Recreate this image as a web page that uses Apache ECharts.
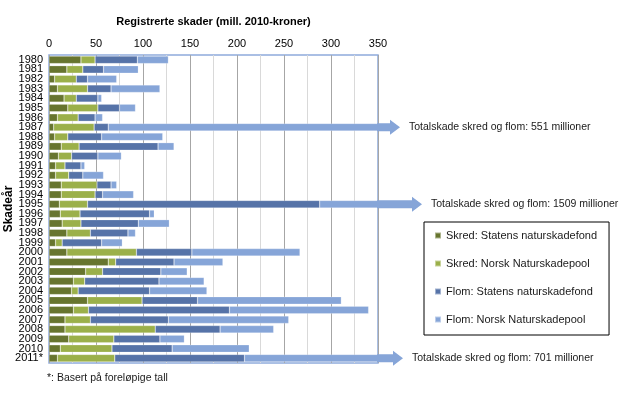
<!DOCTYPE html>
<html>
<head>
<meta charset="utf-8">
<script src="https://cdn.jsdelivr.net/npm/echarts@6/dist/echarts.min.js"></script>
<style>
	html, body { margin: 0; padding: 0; background: #fff; }
	#main { width: 620px; height: 398px; }
</style>
</head>
<body>
<div id="main"></div>
<script>
// data (mill. 2010-kroner)
var years = ['1980', '1981', '1982', '1983', '1984', '1985', '1986', '1987', '1988', '1989',
	'1990', '1991', '1992', '1993', '1994', '1995', '1996', '1997', '1998', '1999',
	'2000', '2001', '2002', '2003', '2004', '2005', '2006', '2007', '2008', '2009',
	'2010', '2011*'];
var skredStatens = [34, 19, 6, 9, 16, 20, 9, 5, 6, 13, 10, 7, 7, 13, 13, 11, 12, 14, 19, 7,
	19, 63, 39, 26, 24, 41, 26, 17, 17, 21, 12, 9];
var skredPool = [15, 17, 23, 32, 13, 32, 22, 43, 14, 19, 14, 10, 14, 38, 36, 30, 21, 20, 25, 7,
	74, 8, 18, 12, 7, 58, 16, 27, 96, 48, 55, 61];
var flomStatens = [45, 22, 12, 25, 23, 23, 18, 15, 36, 84, 28, 17, 15, 15, 8, 247, 74, 61, 40, 42,
	59, 62, 62, 79, 76, 59, 150, 83, 69, 49, 64, 138];
var flomPool = [33, 37, 31, 52, 4, 17, 8, 488, 65, 17, 25, 4, 22, 6, 33, 1221, 5, 33, 8, 22,
	115, 52, 28, 48, 61, 153, 148, 128, 57, 26, 82, 493];
var seriesNames = ['Skred: Statens naturskadefond', 'Skred: Norsk Naturskadepool',
	'Flom: Statens naturskadefond', 'Flom: Norsk Naturskadepool'];
var xTicks = [0, 50, 100, 150, 200, 250, 300, 350];
// years whose bar runs past the axis and gets an arrow + total
var overflowYears = ['1987', '1995', '2011*'];

var colors = ['#67752f', '#9bb04a', '#5673a8', '#86a5d8'];
var option;
var myChart;

myChart = echarts.init(document.getElementById('main'));

var allData = [skredStatens, skredPool, flomStatens, flomPool];
var series = [];
for (var i = 0; i < 4; i++) {
	series.push({
		name: seriesNames[i],
		type: 'bar',
		stack: 'total',
		barCategoryGap: '22%',
		clip: true,
		itemStyle: { color: colors[i], borderColor: 'rgba(255,255,255,0.45)', borderWidth: 0.5 },
		data: allData[i]
	});
}

option = {
	animation: false,
	textStyle: { fontFamily: 'Liberation Sans, Arial, sans-serif' },
	grid: {
		left: 49, right: 242, top: 55, bottom: 35,
		containLabel: false,
		outerBoundsMode: 'none',
		show: true, borderColor: '#8eaadb', borderWidth: 1.5
	},
	legend: {
		orient: 'vertical',
		left: 424, top: 222,
		data: seriesNames,
		icon: 'rect',
		itemWidth: 6, itemHeight: 6,
		itemGap: 17,
		padding: [8, 12, 10, 10],
		borderColor: '#000', borderWidth: 1,
		textStyle: { fontSize: 11, color: '#1a1a1a' }
	},
	xAxis: {
		type: 'value',
		position: 'top',
		min: xTicks[0], max: xTicks[xTicks.length - 1], interval: 50,
		name: 'Registrerte skader (mill. 2010-kroner)',
		nameLocation: 'middle',
		nameGap: 28,
		nameTextStyle: { fontSize: 11, fontWeight: 'bold', color: '#000' },
		axisLine: { show: false },
		axisTick: { show: false },
		axisLabel: { fontSize: 11, color: '#000', margin: 6 },
		splitLine: { lineStyle: { color: '#a6a6a6' } },
		minorTick: { show: false, splitNumber: 2 },
		minorSplitLine: { show: true, lineStyle: { color: '#d9d9d9' } }
	},
	yAxis: {
		type: 'category',
		inverse: true,
		data: years,
		name: 'Skadeår',
		nameLocation: 'middle',
		nameRotate: 90,
		nameGap: 34,
		nameMoveOverlap: false,
		nameTextStyle: { fontSize: 12, fontWeight: 'bold', color: '#000' },
		axisLine: { show: false },
		axisTick: { show: false },
		axisLabel: { fontSize: 11, color: '#000', margin: 6, interval: 0 }
	},
	series: series
};

myChart.setOption(option);

// arrows and totals for the bars that run off the axis
var tipExtra = { '1987': 22, '1995': 44, '2011*': 25 };
var x0 = myChart.convertToPixel({ xAxisIndex: 0 }, option.xAxis.max);
var els = [];
overflowYears.forEach(function(yr) {
	var idx = years.indexOf(yr);
	var total = skredStatens[idx] + skredPool[idx] + flomStatens[idx] + flomPool[idx];
	var y = myChart.convertToPixel({ yAxisIndex: 0 }, yr);
	var tip = x0 + tipExtra[yr];
	els.push({
		type: 'polygon',
		shape: { points: [[x0 - 1, y - 4], [tip - 10, y - 4], [tip - 10, y - 7.5], [tip, y],
			[tip - 10, y + 7.5], [tip - 10, y + 4], [x0 - 1, y + 4]] },
		style: { fill: colors[3] },
		z: 10
	});
	els.push({
		type: 'text',
		x: tip + 9, y: y,
		style: {
			text: 'Totalskade skred og flom: ' + total + ' millioner',
			fill: '#1a1a1a',
			font: '10.5px Liberation Sans, Arial, sans-serif',
			verticalAlign: 'middle'
		},
		z: 10
	});
});
els.push({
	type: 'text',
	x: 47, y: 378,
	style: {
		text: '*: Basert på foreløpige tall',
		fill: '#1a1a1a',
		font: '10.5px Liberation Sans, Arial, sans-serif',
		verticalAlign: 'middle'
	}
});
myChart.setOption({ graphic: els });
</script>
</body>
</html>
